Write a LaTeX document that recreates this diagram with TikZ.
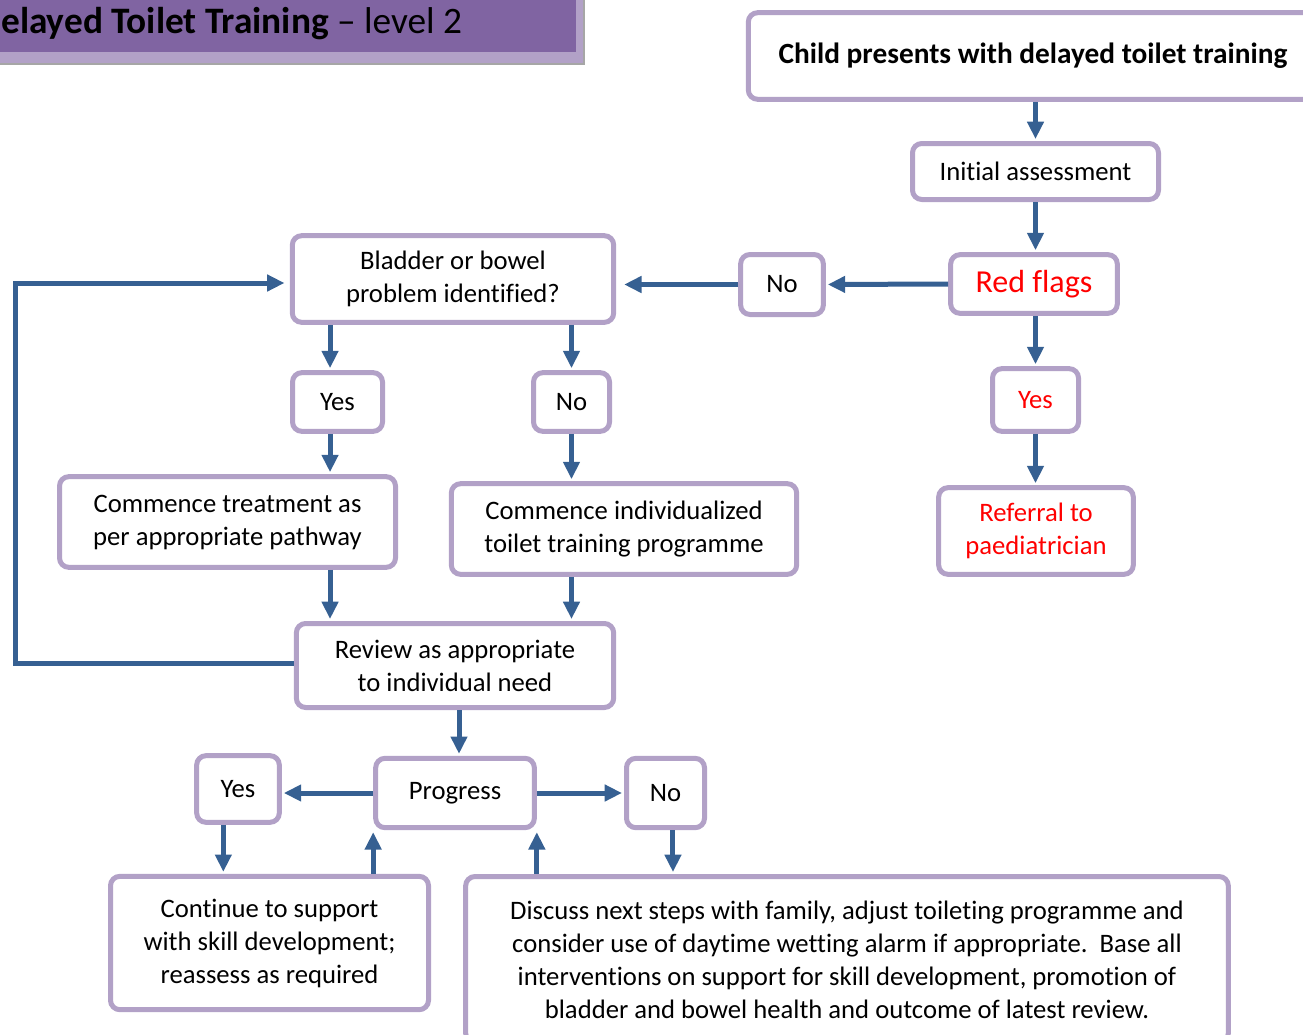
\documentclass[tikz,border=0pt]{standalone}
\usepackage{fontspec}
\setmainfont{Carlito}[Ligatures=CommonOff]
\usepackage{tikz}
\usetikzlibrary{arrows.meta, positioning, calc}
\definecolor{ttlav}{RGB}{178,161,199}
\definecolor{ttblue}{RGB}{54,96,146}
\definecolor{ttpurple}{RGB}{128,100,162}
\definecolor{ttred}{RGB}{255,0,0}
\begin{document}
\begin{tikzpicture}[
  x=0.75pt, y=-0.75pt,
  box/.style={draw=ttlav, line width=3.75pt, rounded corners=7pt, fill=white, align=center, inner sep=0pt, font=\fontsize{20}{24.75}\selectfont},
  arr/.style={-{Triangle[length=13pt, width=12pt]}, ttblue, line width=3.75pt, shorten >=1.5pt},
]
  \useasboundingbox (0,0) rectangle (1303,1035);
  \clip (0,0) rectangle (1303,1035);

  % title banner
  \fill[ttlav] (-10,-10) rectangle (584,64);
  \draw[gray!70, line width=0.8pt] (-10,64) -- (584,64) -- (584,-10);
  \fill[ttpurple] (-10,-10) rectangle (576,52);
  \node[anchor=base west, inner sep=0pt, font=\fontsize{28}{33}\selectfont] (title) at (1,33) {\textbf{elayed Toilet Training} -- level 2};

  % boxes
  \node[box, minimum width=427pt, minimum height=65pt, font=\fontsize{22}{27}\selectfont\bfseries] (top) at (1033,56) {Child presents with delayed toilet training};
  \node[box, minimum width=184.5pt, minimum height=42pt] (init) at (1035.5,171.5) {Initial assessment};
  \node[box, minimum width=125pt, minimum height=44pt, text=ttred, font=\fontsize{24}{29}\selectfont] (redf) at (1034,284) {Red flags};
  \node[box, minimum width=62pt, minimum height=45pt] (nor) at (782,284.5) {No};
  \node[box, minimum width=64.5pt, minimum height=47pt, text=ttred] (yesr) at (1035.5,400) {Yes};
  \node[box, minimum width=146pt, minimum height=65pt, text=ttred] (refer) at (1036,531) {Referral to\\paediatrician};
  \node[box, minimum width=241pt, minimum height=65pt] (bladder) at (453,279) {Bladder or bowel\\problem identified?};
  \node[box, minimum width=67.5pt, minimum height=44pt] (yesl) at (337.5,402) {Yes};
  \node[box, minimum width=57pt, minimum height=44pt] (nom) at (571.5,402) {No};
  \node[box, minimum width=252pt, minimum height=68pt] (treat) at (227.5,522) {Commence treatment as\\per appropriate pathway};
  \node[box, minimum width=259pt, minimum height=68pt] (indiv) at (624,529) {Commence individualized\\toilet training programme};
  \node[box, minimum width=238pt, minimum height=63pt] (review) at (455,665.5) {Review as appropriate\\to individual need};
  \node[box, minimum width=119pt, minimum height=52pt] (prog) at (455,793) {Progress};
  \node[box, minimum width=62pt, minimum height=50pt] (yesb) at (238,789) {Yes};
  \node[box, minimum width=58.5pt, minimum height=52pt] (nob) at (665.5,793) {No};
  \node[box, minimum width=238.5pt, minimum height=100pt] (cont) at (269.5,943) {Continue to support\\with skill development;\\reassess as required};
  \node[box, minimum width=572pt, minimum height=124.5pt] (disc) at (847,959.5) {Discuss next steps with family, adjust toileting programme and\\consider use of daytime wetting alarm if appropriate.\ \ Base all\\interventions on support for skill development, promotion of\\bladder and bowel health and outcome of latest review.};

  % helper columns
  \coordinate (lcol) at ([xshift=-5.6pt]yesl.south);
  \coordinate (bcol) at ([xshift=-11pt]yesb.south);
  \coordinate (ncol) at ([xshift=5.6pt]nob.south);

  % connectors
  \draw[arr] (top.south -| init.north) -- (init.north);
  \draw[arr] (init.south) -- (init.south |- redf.north);
  \draw[arr] (redf.west) -- (nor.east);
  \draw[arr, shorten >=6pt] (nor.west) -- (nor.west -| bladder.east);
  \draw[arr] (redf.south -| yesr.north) -- (yesr.north);
  \draw[arr] (yesr.south) -- (yesr.south |- refer.north);
  \draw[arr] (lcol |- bladder.south) -- (lcol |- yesl.north);
  \draw[arr] (bladder.south -| nom.north) -- (nom.north);
  \draw[arr] (lcol) -- (lcol |- treat.north);
  \draw[arr] (nom.south) -- (nom.south |- indiv.north);
  \draw[arr] (lcol |- treat.south) -- (lcol |- review.north);
  \draw[arr] (nom.south |- indiv.south) -- (nom.south |- review.north);
  \draw[arr, shorten >=4pt] ([yshift=1.5pt]review.west) -- ++(-278.5,0) |- ([yshift=-3pt]bladder.west);
  \draw[arr] (review.south -| 459,0) -- (prog.north -| 459,0);
  \draw[arr] (prog.west) -- (prog.west -| yesb.east);
  \draw[arr] (prog.east) -- (nob.west);
  \draw[arr] (bcol) -- (bcol |- cont.north);
  \draw[arr] (prog.south west |- cont.north) -- (prog.south west);
  \draw[arr] (prog.south east |- disc.north) -- (prog.south east);
  \draw[arr] (ncol) -- (ncol |- disc.north);
\end{tikzpicture}
\end{document}
